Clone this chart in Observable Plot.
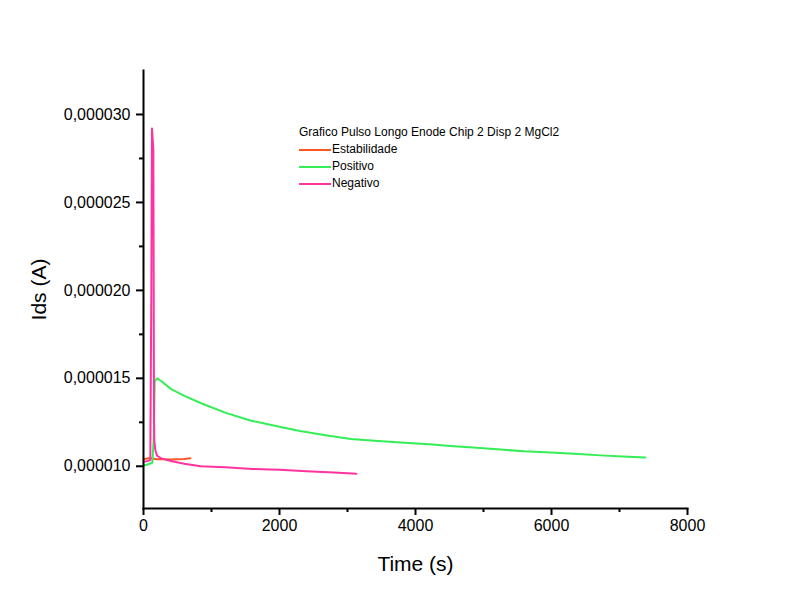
<!DOCTYPE html>
<html><head><meta charset="utf-8">
<script src="https://cdn.jsdelivr.net/npm/d3@7"></script>
<script src="https://cdn.jsdelivr.net/npm/@observablehq/plot@0.6"></script>
<style>
body{margin:0;background:#fff;font-family:"Liberation Sans",Arial,sans-serif}
#wrap{position:relative;width:800px;height:612px}
#legend{position:absolute;left:299px;top:124px;font-size:12px;line-height:17px;color:#000}
#legend span.sw{display:inline-block;width:32px;height:0;border-top:2px solid;vertical-align:middle;margin-right:1px}
</style></head><body>
<div id="wrap"><div id="chart"></div>
<div id="legend"></div></div>
<script>
const seriesNames = ["Estabilidade", "Positivo", "Negativo"];
const colors = ["#ff5522", "#33ee55", "#ff33a0"];
const legendTitle = "Grafico Pulso Longo Enode Chip 2 Disp 2 MgCl2";

// time (s), Ids (A)
const estT = [0, 60, 120, 200, 300, 400, 500, 600, 690];
const estV = [10.4e-6, 10.45e-6, 10.45e-6, 10.4e-6, 10.4e-6, 10.38e-6, 10.4e-6, 10.42e-6, 10.45e-6];

const posT = [0, 60, 130, 150, 165, 200, 260, 400, 600, 840, 1200, 1570, 2000, 2300, 2700, 3050, 3400, 3780, 4200, 4510, 4900, 5250, 5600, 5990, 6400, 6720, 7050, 7380];
const posV = [10.05e-6, 10.1e-6, 10.2e-6, 11.5e-6, 14.85e-6, 15.0e-6, 14.85e-6, 14.4e-6, 14.0e-6, 13.6e-6, 13.05e-6, 12.6e-6, 12.25e-6, 12.0e-6, 11.75e-6, 11.55e-6, 11.45e-6, 11.35e-6, 11.25e-6, 11.15e-6, 11.05e-6, 10.95e-6, 10.85e-6, 10.78e-6, 10.7e-6, 10.62e-6, 10.56e-6, 10.5e-6];

const negT = [0, 60, 100, 115, 125, 135, 145, 150, 155, 160, 175, 200, 260, 400, 600, 840, 1200, 1600, 2000, 2400, 2800, 3130];
const negV = [10.25e-6, 10.3e-6, 10.35e-6, 20e-6, 29.2e-6, 28.6e-6, 28.0e-6, 20e-6, 12.5e-6, 11.4e-6, 10.9e-6, 10.6e-6, 10.45e-6, 10.3e-6, 10.15e-6, 10.0e-6, 9.95e-6, 9.85e-6, 9.8e-6, 9.72e-6, 9.65e-6, 9.58e-6];

const xTicks = [0, 2000, 4000, 6000, 8000];
const xMinor = [1000, 3000, 5000, 7000];
const yTicks = [10e-6, 15e-6, 20e-6, 25e-6, 30e-6];
const yMinor = [12.5e-6, 17.5e-6, 22.5e-6, 27.5e-6];

const rows = [];
[[estT, estV], [posT, posV], [negT, negV]].forEach(([ts, vs], i) =>
  ts.forEach((t, j) => rows.push({t, v: vs[j], s: seriesNames[i]})));

const fmt = d => d.toFixed(6).replace(".", ",");

const chart = Plot.plot({
  width: 800, height: 612,
  marginLeft: 143, marginRight: 113, marginTop: 70, marginBottom: 104,
  style: {fontFamily: "Liberation Sans, Arial, sans-serif", fontSize: "16px", color: "#000"},
  x: {type: "linear", domain: [0, 8000]},
  y: {type: "linear", domain: [7.6e-6, 32.5e-6]},
  color: {domain: seriesNames, range: colors},
  marks: [
    Plot.line(rows, {x: "t", y: "v", z: "s", stroke: "s", strokeWidth: 2}),
    Plot.frame({anchor: "left", strokeWidth: 2}),
    Plot.frame({anchor: "bottom", strokeWidth: 2}),
    Plot.axisX({ticks: xTicks, tickSize: 7, tickPadding: 4, tickFormat: d => String(d), label: "Time (s)", labelAnchor: "center", labelArrow: "none", labelOffset: 62, fontSize: 16}),
    Plot.axisX({ticks: xMinor, tickSize: 4, text: null, label: null}),
    Plot.axisY({ticks: yTicks, tickSize: 7, tickPadding: 6, tickFormat: fmt, label: "Ids (A)", labelAnchor: "center", labelArrow: "none", labelOffset: 112, fontSize: 16}),
    Plot.axisY({ticks: yMinor, tickSize: 4, text: null, label: null})
  ]
});
chart.querySelectorAll('[aria-label="x-axis tick"], [aria-label="y-axis tick"]').forEach(g => g.setAttribute("stroke-width", 2));
chart.querySelectorAll('[aria-label="x-axis label"] text, [aria-label="y-axis label"] text').forEach(t => t.style.fontSize = "21px");
document.getElementById("chart").appendChild(chart);

const lg = document.getElementById("legend");
lg.innerHTML = `<div>${legendTitle}</div>` + seriesNames.map((n, i) =>
  `<div><span class="sw" style="border-color:${colors[i]}"></span>${n}</div>`).join("");
</script></body></html>
